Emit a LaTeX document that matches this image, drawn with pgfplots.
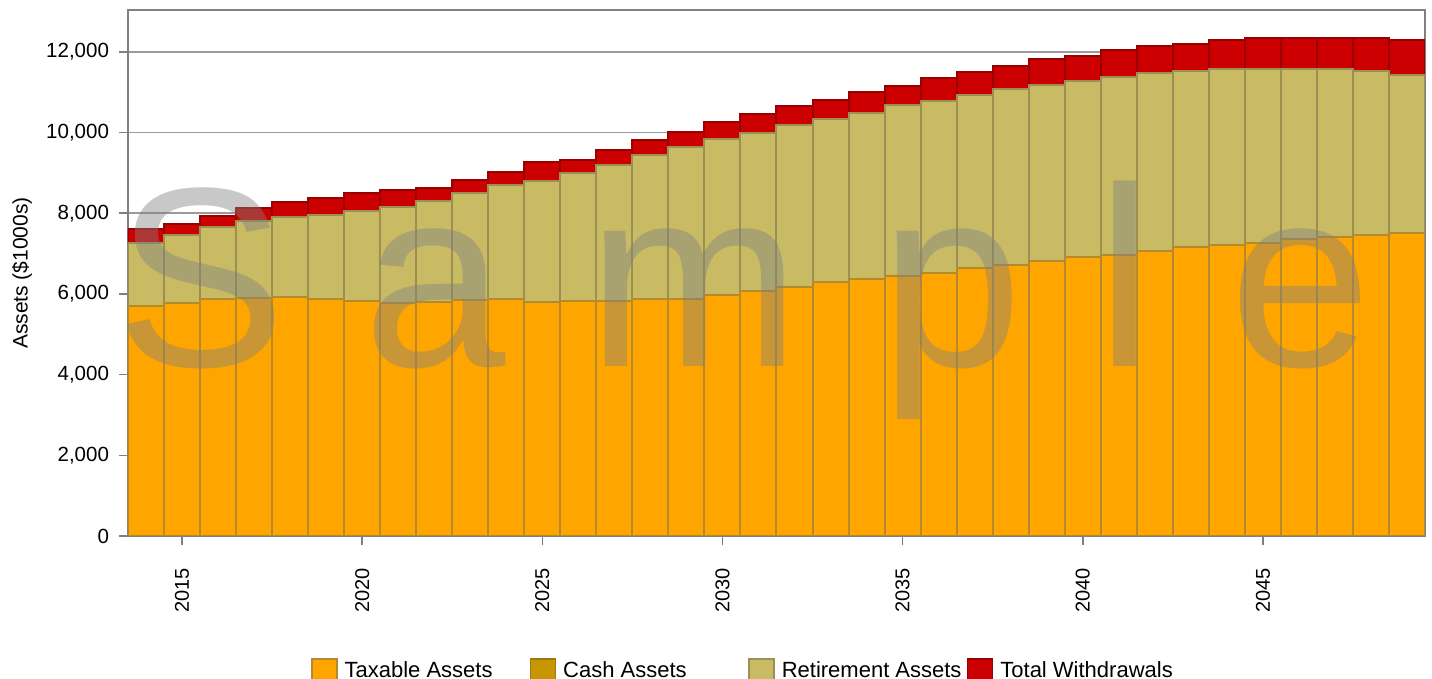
\documentclass[border=0pt]{standalone}
\usepackage{pgfplots}
\pgfplotsset{compat=1.18}
\usepackage{pgfplotstable}
\usepackage{fontspec}
\setmainfont{Liberation Sans}
\definecolor{taxc}{HTML}{FFA500}
\definecolor{taxe}{HTML}{B48A2E}
\definecolor{cashc}{HTML}{C89600}
\definecolor{cashe}{HTML}{9C7A10}
\definecolor{retc}{HTML}{C8BB64}
\definecolor{rete}{HTML}{9C8F55}
\definecolor{wdc}{HTML}{CC0000}
\definecolor{wde}{HTML}{990000}
\definecolor{axg}{HTML}{808080}

\pgfplotstableread{
year tax cash ret wd
2014 5710 0 1562 332
2015 5785 0 1670 280
2016 5876 0 1777 280
2017 5909 0 1901 330
2018 5934 0 1967 388
2019 5876 0 2074 438
2020 5826 0 2232 438
2021 5777 0 2372 437
2022 5810 0 2488 338
2023 5851 0 2645 339
2024 5875 0 2815 343
2025 5793 0 3008 480
2026 5834 0 3158 330
2027 5834 0 3356 380
2028 5876 0 3562 380
2029 5876 0 3760 380
2030 5975 0 3860 429
2031 6082 0 3909 472
2032 6181 0 4001 486
2033 6289 0 4042 479
2034 6372 0 4108 532
2035 6446 0 4232 479
2036 6529 0 4256 579
2037 6636 0 4290 586
2038 6719 0 4363 571
2039 6826 0 4356 636
2040 6925 0 4356 628
2041 6970 0 4410 674
2042 7074 0 4401 682
2043 7173 0 4348 685
2044 7215 0 4355 735
2045 7272 0 4298 785
2046 7364 0 4206 785
2047 7421 0 4149 785
2048 7463 0 4058 834
2049 7520 0 3902 875
}\datatable

\pgfplotsset{
  mylegend/.style={legend image code/.code={\draw[##1, line width=0.8pt] (0pt,-6.25pt) rectangle (12.5pt,6.25pt);}}
}

\begin{document}
\begin{tikzpicture}
\path[use as bounding box] (-64pt,-71.5pt) rectangle (652pt,268pt);
\begin{axis}[
  scale only axis,
  width=648.5pt, height=263pt,
  ybar stacked, bar width=1, bar shift=0pt,
  xmin=2013.5, xmax=2049.5,
  ymin=0, ymax=13040,
  xtick={2015,2020,...,2045},
  ytick={0,2000,...,12000},
  scaled y ticks=false,
  minor tick num=0,
  tick pos=left,
  tick align=outside,
  major tick length=4.5pt,
  tick style={axg, line width=0.8pt},
  axis line style={axg, line width=1pt},
  ymajorgrids,
  grid style={axg!80, line width=0.8pt},
  /pgf/number format/assume math mode=true,
  yticklabel shift=1.5pt,
  xticklabel shift=8pt,
  y tick label style={/pgf/number format/1000 sep={,}, font=\fontsize{10.25}{12}\selectfont},
  x tick label style={/pgf/number format/1000 sep={}, font=\fontsize{10}{12}\selectfont, rotate=90, anchor=east},
  ylabel={Assets (\$1000s)},
  every axis y label/.style={at={(axis description cs:-0.0817,0.5)}, rotate=90, anchor=center, font=\fontsize{10.5}{12}\selectfont},
  legend columns=4,
  legend style={draw=none, fill=none, inner sep=0pt, outer sep=0pt,
    at={(axis description cs:0.1411,-0.232)}, anchor=north west,
    font=\fontsize{11}{13}\selectfont,
    nodes={inner sep=0pt, anchor=west},
    /tikz/every odd column/.append style={column sep=3.5pt},
    /tikz/every even column/.append style={column sep=0pt}},
  legend cell align=left,
]
\addplot+[fill=taxc, draw=taxe, line width=1pt, mylegend] table[x=year, y=tax] {\datatable};
\addlegendentry{\makebox[92.5pt][l]{Taxable Assets}}
\addplot+[fill=cashc, draw=cashe, line width=1pt, mylegend] table[x=year, y=cash] {\datatable};
\addlegendentry{\makebox[92.5pt][l]{Cash Assets}}
\addplot+[fill=retc, draw=rete, line width=1pt, mylegend] table[x=year, y=ret] {\datatable};
\addlegendentry{\makebox[92.5pt][l]{Retirement Assets}}
\addplot+[fill=wdc, draw=wde, line width=1pt, mylegend] table[x=year, y=wd] {\datatable};
\addlegendentry{\makebox[92.5pt][l]{Total Withdrawals}}
\end{axis}
\begin{scope}[every node/.style={anchor=base, inner sep=0pt, text=black!50, text opacity=0.43, font=\fontsize{128}{128}\selectfont}]
\node at (36.5pt,84.5pt) {S};
\node at (153.5pt,84.5pt) {a};
\node at (283pt,84.5pt) {m};
\node at (412pt,84.5pt) {p};
\node at (498.5pt,84.5pt) {l};
\node at (586.5pt,84.5pt) {e};
\end{scope}
\end{tikzpicture}
\end{document}
